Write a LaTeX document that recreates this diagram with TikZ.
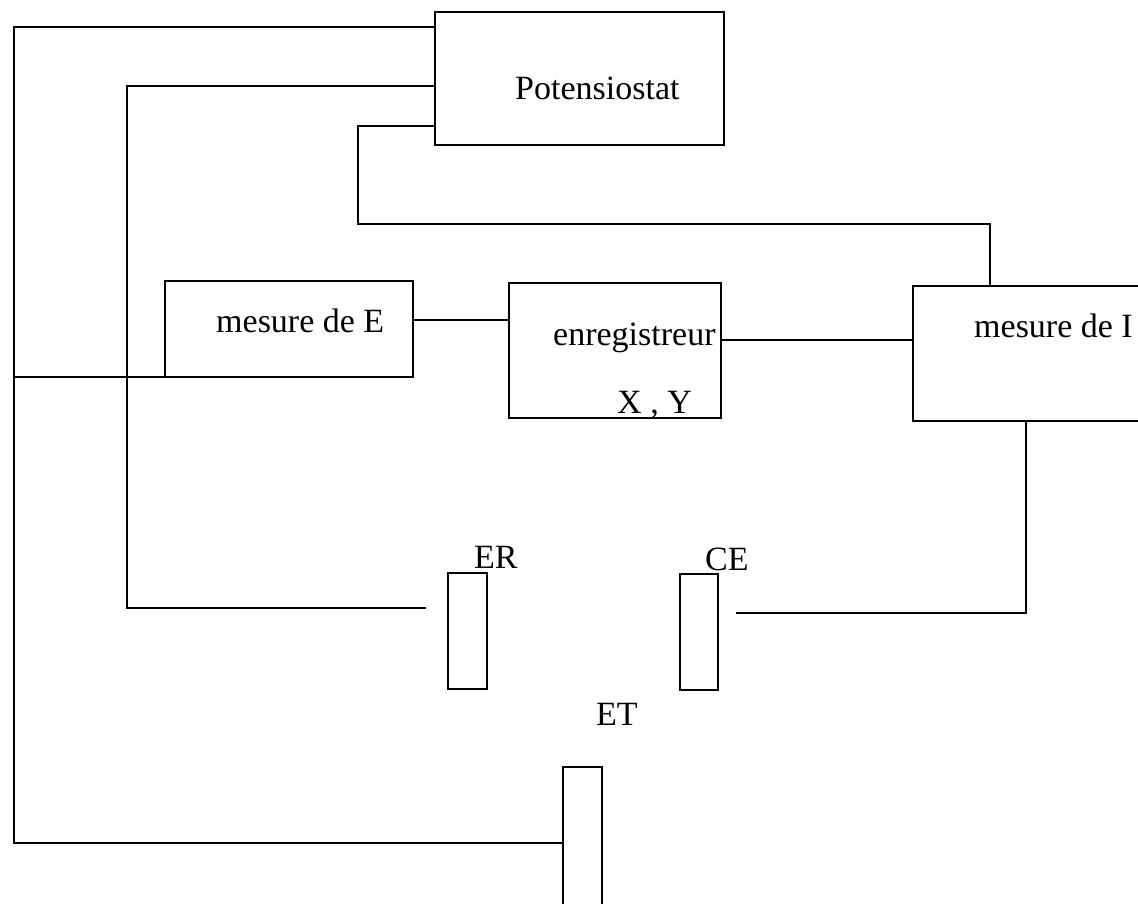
\documentclass[tikz,border=0pt]{standalone}
\usepackage{fontspec}
\setmainfont{Liberation Serif}
\begin{document}
\begin{tikzpicture}[x=1pt,y=-1pt,
  box/.style={draw,line width=2.6pt,inner sep=0pt,outer sep=0pt,minimum width=#1},
  wire/.style={line width=2.6pt,line cap=rect},
  txt/.style={anchor=base west,inner sep=0pt,font=\fontsize{34}{40}\selectfont}]
\useasboundingbox (0,0) rectangle (1138,904);
\clip (0,0) rectangle (1138,904);
% boxes
\node[box=289pt,minimum height=133pt] (pot) at (579.5,78.5) {};
\node[box=248pt,minimum height=96pt] (mE) at (289,329) {};
\node[box=212pt,minimum height=135pt] (enr) at (615,350.5) {};
\node[box=247pt,minimum height=135pt] (mI) at (1036.5,353.5) {};
% electrodes
\node[box=39pt,minimum height=116pt] (ER) at (467.5,631) {};
\node[box=38pt,minimum height=116pt] (CE) at (699,632) {};
\node[box=39pt,minimum height=143pt] (ET) at (582.5,838.5) {};
% texts
\node[txt] (tpot) at (515,100) {Potensiostat};
\node[txt] (tmE) at (216,332) {mesure de E};
\node[txt] (tenr) at (553,345) {enregistreur};
\node[txt] (txy) at (617,413) {X , Y};
\node[txt] (tmI) at (974,337) {mesure de I};
\node[txt] (tER) at (474,568) {ER};
\node[txt] (tCE) at (705,570) {CE};
\node[txt] (tET) at (596,725) {ET};
% helper coordinates
\coordinate (y27) at (0,27);
\coordinate (y86) at (0,86);
\coordinate (y126) at (0,126);
\coordinate (y320) at (0,320);
\coordinate (y340) at (0,340);
\coordinate (y843) at (0,843);
\coordinate (x990) at (990,0);
\coordinate (x1026) at (1026,0);
\coordinate (a1) at (14,27);
\coordinate (a2) at (14,843);
\coordinate (b1) at (127,86);
\coordinate (b2) at (127,608);
\coordinate (bend) at (425,608);
\coordinate (c1) at (358,126);
\coordinate (c2) at (358,224);
\coordinate (c3) at (990,224);
\coordinate (f1) at (1026,613);
\coordinate (fend) at (737,613);
% wires
\draw[wire] (pot.west |- y27) -- (a1) -- (a2) -- (ET.west |- y843);
\draw[wire] (mE.south west -| a1) -- (mE.south west);
\draw[wire] (pot.west |- y86) -- (b1) -- (b2) -- (bend);
\draw[wire] (pot.west |- y126) -- (c1) -- (c2) -- (c3) -- (mI.north -| x990);
\draw[wire] (mE.east |- y320) -- (enr.west |- y320);
\draw[wire] (enr.east |- y340) -- (mI.west |- y340);
\draw[wire] (mI.south -| x1026) -- (f1) -- (fend);
\end{tikzpicture}
\end{document}
